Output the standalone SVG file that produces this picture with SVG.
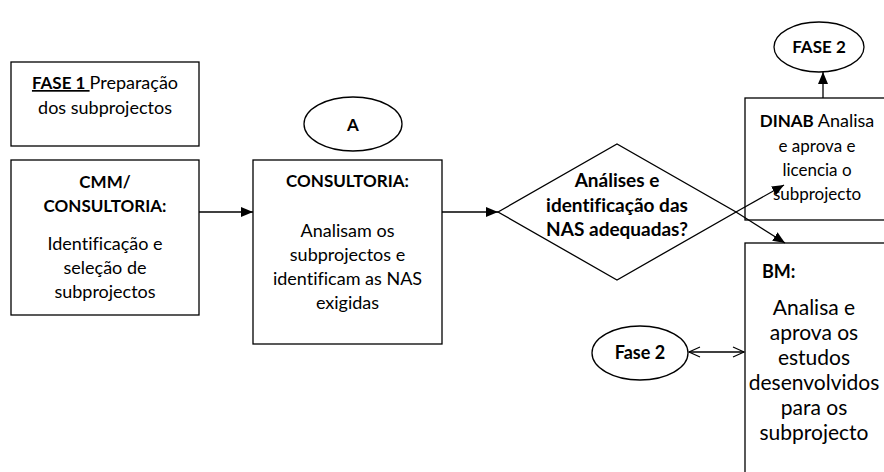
<svg xmlns="http://www.w3.org/2000/svg" width="884" height="472" viewBox="0 0 884 472">
<style>
.box{fill:#fff;stroke:#000;stroke-width:1.3}
.t{font-family:Lato,"Carlito","Liberation Sans",sans-serif;font-size:18px;fill:#000;font-variant-ligatures:none}
.c{text-anchor:middle}
.b{font-weight:bold;font-size:17px}
.d{font-weight:bold;font-size:19px}
.big{font-size:21px}
.ln{stroke:#000;stroke-width:1.3;fill:none}
</style>
<defs>
<marker id="ah" markerUnits="userSpaceOnUse" markerWidth="12" markerHeight="10" refX="12" refY="5" orient="auto"><path d="M0,0 L12,5 L0,10 z" fill="#000"/></marker>
<marker id="oh" markerUnits="userSpaceOnUse" markerWidth="14" markerHeight="12" refX="12" refY="6" orient="auto-start-reverse"><path d="M1,1 L12,6 L1,11" fill="none" stroke="#000" stroke-width="1.2"/></marker>
</defs>
<rect width="884" height="472" fill="#fff"/>
<g id="fase1">
<rect class="box" x="11" y="62" width="188" height="84"/>
<text class="t c" x="105" y="89"><tspan class="b" text-decoration="underline">FASE 1 </tspan>Preparação</text>
<text class="t c" x="105" y="114">dos subprojectos</text>
</g>
<g id="cmm">
<rect class="box" x="11" y="160" width="188" height="155"/>
<text class="t c b" x="105" y="188">CMM/</text>
<text class="t c b" x="105" y="212">CONSULTORIA:</text>
<text class="t c" x="105" y="250">Identificação e</text>
<text class="t c" x="105" y="274">seleção de</text>
<text class="t c" x="105" y="298">subprojectos</text>
</g>
<g id="consultoria">
<rect class="box" x="253" y="160" width="189" height="184"/>
<text class="t c b" x="347.5" y="187">CONSULTORIA:</text>
<text class="t c" x="347.5" y="237">Analisam os</text>
<text class="t c" x="347.5" y="261">subprojectos e</text>
<text class="t c" x="347.5" y="285">identificam as NAS</text>
<text class="t c" x="347.5" y="309">exigidas</text>
</g>
<g id="a">
<ellipse class="box" cx="353" cy="124" rx="49" ry="27"/>
<text class="t c b" x="353" y="131">A</text>
</g>
<g id="decisao">
<polygon class="box" points="498,212 617,144 736,212 617,280"/>
<text class="t c d" x="617" y="187">Análises e</text>
<text class="t c d" x="617" y="212">identificação das</text>
<text class="t c d" x="617" y="236">NAS adequadas?</text>
</g>
<g id="dinab">
<rect class="box" x="745" y="98" width="160" height="122"/>
<text class="t c" x="817" y="127" font-size="17"><tspan class="b">DINAB</tspan> Analisa</text>
<text class="t c" x="817" y="152" font-size="17" style="font-size:17px">e aprova e</text>
<text class="t c" x="817" y="176" style="font-size:17px">licencia o</text>
<text class="t c" x="817" y="200" style="font-size:17px">subprojecto</text>
</g>
<g id="fase2-top">
<ellipse class="box" cx="819" cy="47" rx="45" ry="25"/>
<text class="t c b" x="819" y="53">FASE 2</text>
</g>
<g id="fase2-left">
<ellipse class="box" cx="640" cy="353" rx="48" ry="27"/>
<text class="t c b" x="640" y="359" style="font-size:18px">Fase 2</text>
</g>
<g id="bm">
<rect class="box" x="745" y="243" width="160" height="260"/>
<text class="t b" x="762" y="278" style="font-size:18px">BM:</text>
<text class="t c big" x="814" y="315">Analisa e</text>
<text class="t c big" x="814" y="340">aprova os</text>
<text class="t c big" x="814" y="365">estudos</text>
<text class="t c big" x="814" y="390">desenvolvidos</text>
<text class="t c big" x="814" y="415">para os</text>
<text class="t c big" x="814" y="440">subprojecto</text>
</g>
<g id="connectors">
<line class="ln" x1="199" y1="212" x2="253" y2="212" marker-end="url(#ah)"/>
<line class="ln" x1="442" y1="212" x2="498" y2="212" marker-end="url(#ah)"/>
<line class="ln" x1="736" y1="212" x2="784" y2="185" marker-end="url(#ah)"/>
<line class="ln" x1="736" y1="212" x2="785" y2="243" marker-end="url(#ah)"/>
<line class="ln" x1="823" y1="98" x2="823" y2="72" marker-end="url(#ah)"/>
<line class="ln" x1="689" y1="352" x2="744" y2="352" marker-start="url(#oh)" marker-end="url(#oh)"/>
</g>
</svg>
